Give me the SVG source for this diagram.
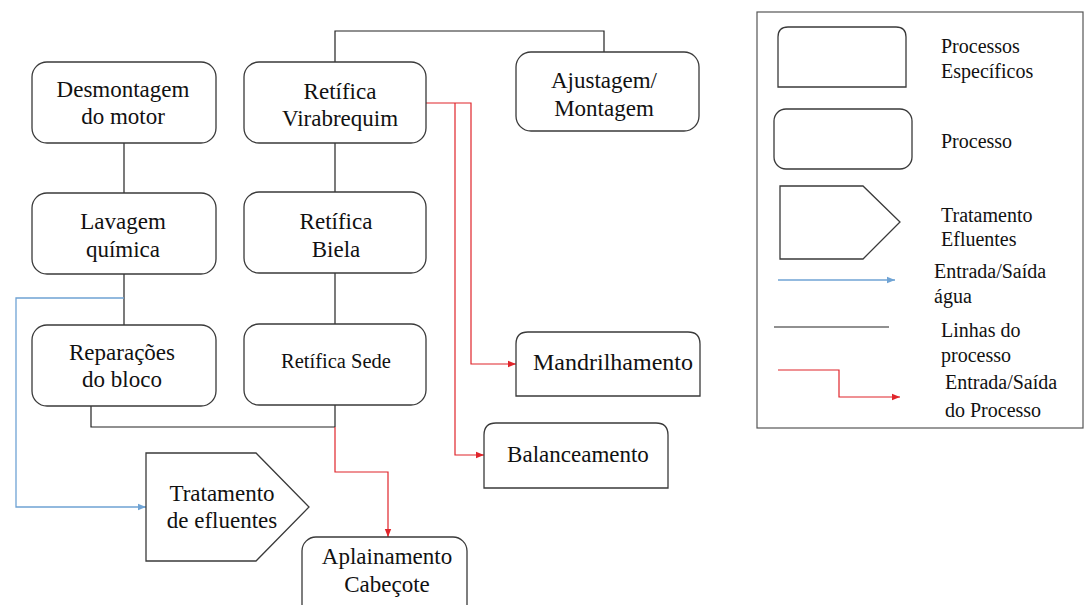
<svg xmlns="http://www.w3.org/2000/svg" width="1086" height="605" viewBox="0 0 1086 605">
<defs>
<style>
.box{fill:#fff;stroke:#3a3a3a;stroke-width:1.3}
.t{font-size:23px;fill:#111;text-anchor:middle}
.lt{font-size:20px;fill:#111}
.k{fill:none;stroke:#222;stroke-width:1.2}
.r{fill:none;stroke:#e0252b;stroke-width:1.2}
.b{fill:none;stroke:#6fa3d4;stroke-width:1.3}
</style>
<marker id="ar" viewBox="0 0 10 10" refX="10" refY="5" markerWidth="8" markerHeight="8" markerUnits="userSpaceOnUse" orient="auto"><path d="M0,1 L10,5 L0,9 Z" fill="#e0252b"/></marker>
<marker id="ab" viewBox="0 0 10 10" refX="10" refY="5" markerWidth="8" markerHeight="8" markerUnits="userSpaceOnUse" orient="auto"><path d="M0,1 L10,5 L0,9 Z" fill="#6fa3d4"/></marker>
</defs>
<rect width="1086" height="605" fill="#fff"/>
<g id="connectors">
<path class="k" d="M124,143 V193"/>
<path class="k" d="M124,274 V325"/>
<path class="k" d="M335,143 V192"/>
<path class="k" d="M335,273 V324"/>
<path class="k" d="M335,62 V31 H604 V52"/>
<path class="k" d="M91,406 V427 H335"/>
<path class="k" d="M335,405 V427"/>
<path class="r" d="M426,103 H471 V364 H516" marker-end="url(#ar)"/>
<path class="r" d="M455,103 V455 H484" marker-end="url(#ar)"/>
<path class="r" d="M335,427 V472 H388 V537" marker-end="url(#ar)"/>
<path class="b" d="M124,298 H16 V507 H146" marker-end="url(#ab)"/>
</g>
<g font-family="Liberation Serif, Tinos, Times New Roman, DejaVu Serif, serif">
<g id="desmontagem">
<rect class="box" x="32" y="62" width="184" height="81" rx="15"/>
<text class="t" x="123" y="97">Desmontagem</text>
<text class="t" x="123" y="124">do motor</text>
</g>
<g id="virabrequim">
<rect class="box" x="244" y="62" width="182" height="81" rx="15"/>
<text class="t" x="340" y="99">Retífica</text>
<text class="t" x="340" y="126">Virabrequim</text>
</g>
<g id="ajustagem">
<rect class="box" x="516" y="52" width="183" height="79" rx="15"/>
<text class="t" x="604" y="88">Ajustagem/</text>
<text class="t" x="604" y="116">Montagem</text>
</g>
<g id="lavagem">
<rect class="box" x="32" y="193" width="184" height="81" rx="15"/>
<text class="t" x="123" y="229">Lavagem</text>
<text class="t" x="123" y="257">química</text>
</g>
<g id="biela">
<rect class="box" x="244" y="192" width="182" height="81" rx="15"/>
<text class="t" x="336" y="229">Retífica</text>
<text class="t" x="336" y="257">Biela</text>
</g>
<g id="reparacoes">
<rect class="box" x="32" y="325" width="184" height="81" rx="15"/>
<text class="t" x="122" y="360">Reparações</text>
<text class="t" x="122" y="387">do bloco</text>
</g>
<g id="sede">
<rect class="box" x="244" y="324" width="182" height="81" rx="15"/>
<text class="t" x="336" y="368" style="font-size:20.5px">Retífica Sede</text>
</g>
<g id="mandrilhamento">
<path class="box" d="M516,396 V344 Q516,332 528,332 H688 Q700,332 700,344 V396 Z"/>
<text class="t" x="613" y="370" style="font-size:24px">Mandrilhamento</text>
</g>
<g id="balanceamento">
<path class="box" d="M484,488 V435 Q484,423 496,423 H656 Q668,423 668,435 V488 Z"/>
<text class="t" x="578" y="462">Balanceamento</text>
</g>
<g id="tratamento">
<path class="box" d="M146,453 H256 L309,507 L256,561 H146 Z"/>
<text class="t" x="222" y="501">Tratamento</text>
<text class="t" x="222" y="528">de efluentes</text>
</g>
<g id="aplainamento">
<rect class="box" x="302" y="537" width="165" height="90" rx="14"/>
<text class="t" x="387" y="564">Aplainamento</text>
<text class="t" x="387" y="592">Cabeçote</text>
</g>
<g id="legend">
<rect x="757" y="12" width="326" height="416" fill="#fff" stroke="#555" stroke-width="1.2"/>
<path class="box" d="M778,87 V37 Q778,27 788,27 H896 Q906,27 906,37 V87 Z"/>
<text class="lt" x="941" y="53">Processos</text>
<text class="lt" x="941" y="78">Específicos</text>
<rect class="box" x="774" y="109" width="138" height="60" rx="12"/>
<text class="lt" x="941" y="148">Processo</text>
<path class="box" d="M780,186 H863 L900,222 L863,259 H780 Z"/>
<text class="lt" x="941" y="222">Tratamento</text>
<text class="lt" x="941" y="246">Efluentes</text>
<path class="b" d="M778,280 H895" marker-end="url(#ab)"/>
<text class="lt" x="934" y="278">Entrada/Saída</text>
<text class="lt" x="934" y="303">água</text>
<path class="k" d="M774,327 H889"/>
<text class="lt" x="941" y="337">Linhas do</text>
<text class="lt" x="941" y="362">processo</text>
<path class="r" d="M778,370 H839 V397 H900" marker-end="url(#ar)"/>
<text class="lt" x="945" y="389">Entrada/Saída</text>
<text class="lt" x="945" y="417">do Processo</text>
</g>
</g>
</svg>
